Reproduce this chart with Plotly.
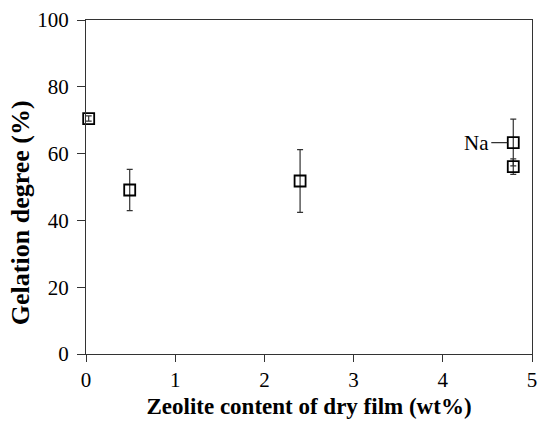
import plotly.graph_objects as go

# Gelation degree vs. zeolite content of the dry film
zeolite_wt = [0.03, 0.49, 2.40, 4.79, 4.79]
gelation = [70.5, 49.1, 51.8, 63.3, 56.1]
gelation_err = [0.8, 6.2, 9.4, 7.0, 2.3]

x_ticks = [0, 1, 2, 3, 4, 5]
y_ticks = [0, 20, 40, 60, 80, 100]

font_family = "Liberation Serif, Times New Roman, serif"
axis_color = "#333333"

fig = go.Figure()
fig.add_trace(go.Scatter(
    x=zeolite_wt, y=gelation, mode="markers",
    marker=dict(symbol="square-open", size=11, color="black",
                line=dict(width=1.8, color="black")),
    error_y=dict(type="data", array=gelation_err, visible=True,
                 color="#333333", thickness=1.2, width=3),
    showlegend=False, cliponaxis=False,
))

# label for the Na-exchanged sample
fig.add_annotation(
    x=zeolite_wt[3], y=gelation[3], xref="x", yref="y",
    text="Na", showarrow=True, arrowhead=0, arrowwidth=1.2,
    arrowcolor="#333333", ax=-22, ay=0, xanchor="right",
    standoff=6,
    font=dict(family=font_family, size=21, color="black"),
)

# y-axis title, placed slightly below the vertical centre of the plot
fig.add_annotation(
    x=-66 / 451, y=(355 - 213) / 335, xref="paper", yref="paper",
    text="<b>Gelation degree (%)</b>", textangle=-90, showarrow=False,
    xanchor="center", yanchor="middle",
    font=dict(family=font_family, size=26, color="black"),
)

fig.update_xaxes(
    range=[0, 5], tickvals=x_ticks, ticks="outside", ticklen=7,
    tickcolor=axis_color, showline=True, linecolor=axis_color, linewidth=1.3,
    mirror=True, showgrid=False, zeroline=False,
    tickfont=dict(family=font_family, size=21, color="black"),
    title=dict(text="<b>Zeolite content of dry film (wt%)</b>",
               font=dict(family=font_family, size=23, color="black"),
               standoff=6),
)
fig.update_yaxes(
    range=[0, 100], tickvals=y_ticks, ticks="outside", ticklen=8,
    tickcolor=axis_color, showline=True, linecolor=axis_color, linewidth=1.3,
    mirror=True, showgrid=False, zeroline=False, ticklabelstandoff=4,
    tickfont=dict(family=font_family, size=21, color="black"),
)

fig.update_layout(
    width=544, height=421,
    margin=dict(l=86, r=7, t=20, b=66),
    paper_bgcolor="white", plot_bgcolor="white",
)

fig.write_html("out.html")
